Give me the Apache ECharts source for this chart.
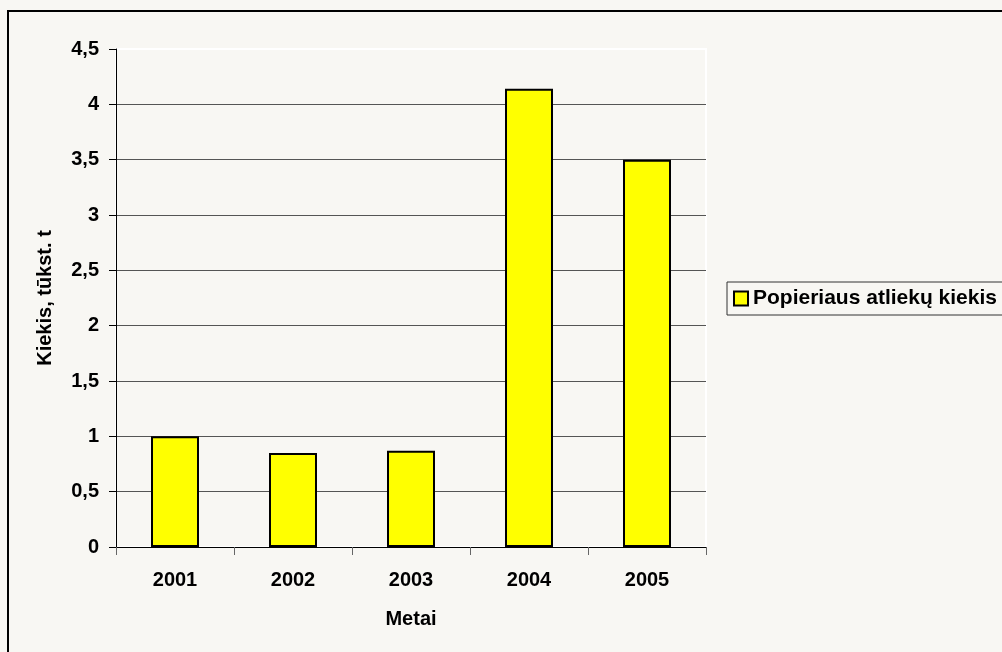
<!DOCTYPE html>
<html>
<head>
<meta charset="utf-8">
<script src="https://cdn.jsdelivr.net/npm/echarts@6/dist/echarts.min.js"></script>
<style>
html,body{margin:0;padding:0;background:#f8f7f3;}
#c{width:1002px;height:652px;}
</style>
</head>
<body>
<div id="c"></div>
<script>
var categories = ['2001', '2002', '2003', '2004', '2005'];
var values = [1.0, 0.85, 0.87, 4.14, 3.5];
var seriesName = 'Popieriaus atliekų kiekis';
var xTitle = 'Metai';
var yTitle = 'Kiekis, tūkst. t';

var FONT = '"Liberation Sans", Arial, sans-serif';
var chart = echarts.init(document.getElementById('c'));
var splitColors = [];
for (var i = 0; i < 9; i++) splitColors.push('#555555');
splitColors.push('#ffffff');

chart.setOption({
  backgroundColor: '#f8f7f3',
  animation: false,
  textStyle: { fontFamily: FONT },
  graphic: [{
    type: 'rect',
    shape: { x: 8, y: 11, width: 1200, height: 900 },
    style: { fill: 'none', stroke: '#000', lineWidth: 2 },
    z: 100
  }],
  grid: {
    left: 116, right: 296, top: 49, bottom: 105,
    show: true, borderColor: '#ffffff', borderWidth: 2, backgroundColor: 'transparent'
  },
  legend: {
    left: 727, top: 282,
    orient: 'vertical',
    padding: [6, 12, 6, 6],
    itemWidth: 14, itemHeight: 14,
    icon: 'rect',
    backgroundColor: '#f8f7f3',
    borderColor: '#333',
    borderWidth: 1,
    borderRadius: 0,
    textStyle: { fontFamily: FONT, fontWeight: 'bold', fontSize: 21, color: '#000' },
    itemStyle: { color: '#ffff00', borderColor: '#000', borderWidth: 2 },
    data: [seriesName]
  },
  xAxis: {
    type: 'category',
    data: categories,
    name: xTitle,
    nameLocation: 'middle',
    nameGap: 72,
    nameTextStyle: { fontFamily: FONT, fontWeight: 'bold', fontSize: 20, color: '#000', verticalAlign: 'middle' },
    axisLine: { lineStyle: { color: '#000', width: 1 } },
    axisTick: { show: true, length: 8, lineStyle: { color: '#666' } },
    axisLabel: { margin: 23, fontFamily: FONT, fontWeight: 'bold', fontSize: 20, color: '#000' }
  },
  yAxis: {
    type: 'value',
    min: 0, max: 4.5, interval: 0.5,
    name: yTitle,
    nameLocation: 'middle',
    nameGap: 71,
    nameRotate: 90,
    nameTextStyle: { fontFamily: FONT, fontWeight: 'bold', fontSize: 20, color: '#000', verticalAlign: 'middle' },
    axisLine: { show: true, lineStyle: { color: '#000', width: 1 } },
    axisTick: { show: true, length: 7, lineStyle: { color: '#000' } },
    axisLabel: {
      margin: 17, fontFamily: FONT, fontWeight: 'bold', fontSize: 20, color: '#000',
      formatter: function (v) { return String(v).replace('.', ','); }
    },
    splitLine: { show: true, lineStyle: { color: splitColors, width: 1 } }
  },
  series: [{
    name: seriesName,
    type: 'bar',
    data: values,
    barWidth: 48,
    itemStyle: { color: '#ffff00', borderColor: '#000', borderWidth: 2 }
  }]
});
</script>
</body>
</html>
